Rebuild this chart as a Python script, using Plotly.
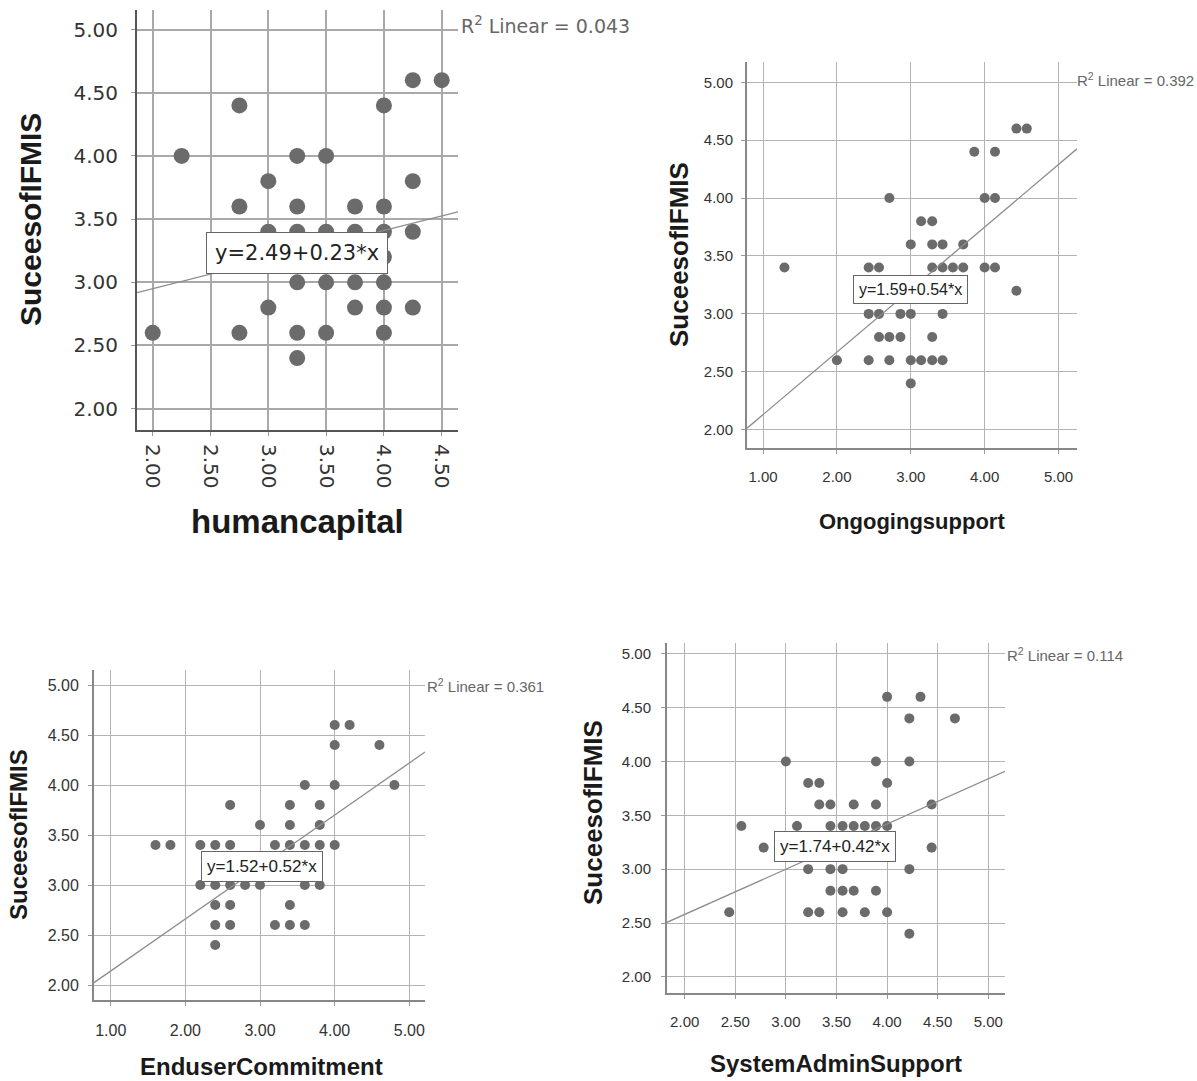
import plotly.graph_objects as go

W, H = 1197, 1081

# ---------------- data ----------------
# Panel 1: humancapital vs SuceesofIFMIS
hc_x = [4.25, 4.5, 2.75, 4.0, 2.25, 3.25, 3.5, 3.0, 4.25, 2.75, 3.25, 3.75, 4.0,
        3.0, 3.25, 3.5, 3.75, 4.0, 4.25, 4.0, 3.25, 3.5, 3.75, 4.0,
        3.0, 3.75, 4.0, 4.25, 2.0, 2.75, 3.25, 3.5, 4.0, 3.25]
hc_y = [4.6, 4.6, 4.4, 4.4, 4.0, 4.0, 4.0, 3.8, 3.8, 3.6, 3.6, 3.6, 3.6,
        3.4, 3.4, 3.4, 3.4, 3.4, 3.4, 3.2, 3.0, 3.0, 3.0, 3.0,
        2.8, 2.8, 2.8, 2.8, 2.6, 2.6, 2.6, 2.6, 2.6, 2.4]

# Panel 2: Ongogingsupport vs SuceesofIFMIS
os_x = [4.43, 4.57, 3.86, 4.14, 2.71, 4.0, 4.14, 3.14, 3.29,
        3.0, 3.29, 3.43, 3.71,
        1.29, 2.43, 2.57, 3.29, 3.43, 3.57, 3.71, 4.0, 4.14,
        4.43,
        2.43, 2.57, 2.86, 3.0, 3.43,
        2.57, 2.71, 2.86, 3.29,
        2.0, 2.43, 2.71, 3.0, 3.14, 3.29, 3.43,
        3.0]
os_y = [4.6, 4.6, 4.4, 4.4, 4.0, 4.0, 4.0, 3.8, 3.8,
        3.6, 3.6, 3.6, 3.6,
        3.4, 3.4, 3.4, 3.4, 3.4, 3.4, 3.4, 3.4, 3.4,
        3.2,
        3.0, 3.0, 3.0, 3.0, 3.0,
        2.8, 2.8, 2.8, 2.8,
        2.6, 2.6, 2.6, 2.6, 2.6, 2.6, 2.6,
        2.4]

# Panel 3: EnduserCommitment vs SuceesofIFMIS
ec_x = [4.0, 4.2, 4.0, 4.6, 3.6, 4.0, 4.8, 2.6, 3.4, 3.8, 3.0, 3.4, 3.8,
        1.6, 1.8, 2.2, 2.4, 2.6, 3.2, 3.4, 3.6, 3.8, 4.0,
        2.2, 2.4, 2.6, 2.8, 3.0, 3.6, 3.8,
        2.4, 2.6, 3.4,
        2.4, 2.6, 3.2, 3.4, 3.6,
        2.4]
ec_y = [4.6, 4.6, 4.4, 4.4, 4.0, 4.0, 4.0, 3.8, 3.8, 3.8, 3.6, 3.6, 3.6,
        3.4, 3.4, 3.4, 3.4, 3.4, 3.4, 3.4, 3.4, 3.4, 3.4,
        3.0, 3.0, 3.0, 3.0, 3.0, 3.0, 3.0,
        2.8, 2.8, 2.8,
        2.6, 2.6, 2.6, 2.6, 2.6,
        2.4]

# Panel 4: SystemAdminSupport vs SuceesofIFMIS
sa_x = [4.0, 4.33, 4.22, 4.67, 3.0, 3.89, 4.22, 3.22, 3.33, 4.0,
        3.33, 3.44, 3.67, 3.89, 4.44,
        2.56, 3.11, 3.44, 3.56, 3.67, 3.78, 3.89, 4.0,
        2.78, 4.44,
        3.22, 3.44, 3.56, 4.22,
        3.44, 3.56, 3.67, 3.89,
        2.44, 3.22, 3.33, 3.56, 3.78, 4.0,
        4.22]
sa_y = [4.6, 4.6, 4.4, 4.4, 4.0, 4.0, 4.0, 3.8, 3.8, 3.8,
        3.6, 3.6, 3.6, 3.6, 3.6,
        3.4, 3.4, 3.4, 3.4, 3.4, 3.4, 3.4, 3.4,
        3.2, 3.2,
        3.0, 3.0, 3.0, 3.0,
        2.8, 2.8, 2.8, 2.8,
        2.6, 2.6, 2.6, 2.6, 2.6, 2.6,
        2.4]

intercepts = [2.49, 1.59, 1.62, 1.74]
slopes = [0.23, 0.54, 0.52, 0.42]
eq_labels = ["y=2.49+0.23*x", "y=1.59+0.54*x", "y=1.52+0.52*x", "y=1.74+0.42*x"]
r2_labels = ["R<sup>2</sup> Linear = 0.043", "R<sup>2</sup> Linear = 0.392",
             "R<sup>2</sup> Linear = 0.361", "R<sup>2</sup> Linear = 0.114"]
x_titles = ["humancapital", "Ongogingsupport", "EnduserCommitment", "SystemAdminSupport"]
y_title = "SuceesofIFMIS"
x_ticks = [[2.0, 2.5, 3.0, 3.5, 4.0, 4.5], [1, 2, 3, 4, 5], [1, 2, 3, 4, 5],
           [2.0, 2.5, 3.0, 3.5, 4.0, 4.5, 5.0]]
y_ticks = [2.0, 2.5, 3.0, 3.5, 4.0, 4.5, 5.0]

xs = [hc_x, os_x, ec_x, sa_x]
ys = [hc_y, os_y, ec_y, sa_y]

# ---------------- layout/style ----------------
SANS = "Liberation Sans, Arial, sans-serif"
DEJA = "DejaVu Sans, sans-serif"
panels = [
    dict(box=(137, 458, 10, 430), xr=[1.864, 4.641], yr=[1.831, 5.155], ms=16,
         tickfont=dict(family=DEJA, size=20, color="#333"), tickangle=90,
         xstand=4, ystand=9, grid="#a9a9a9", gw=1.5, axis="#555",
         eq=(3.244, 3.232, DEJA, 21, 8), r2=(459, 25, DEJA, 19),
         yt=(30, 220, 30), xt=(297, 521, 33)),
    dict(box=(747, 1077, 62, 448), xr=[0.783, 5.25], yr=[1.842, 5.175], ms=10,
         tickfont=dict(family=SANS, size=15, color="#333"), tickangle=0,
         xstand=10, ystand=5, grid="#b3b3b3", gw=1, axis="#888",
         eq=(3.0, 3.21, SANS, 16, 5), r2=(1075, 80, SANS, 15),
         yt=(679, 255, 26), xt=(912, 521, 22)),
    dict(box=(94, 425, 670, 1000), xr=[0.776, 5.21], yr=[1.85, 5.15], ms=10,
         tickfont=dict(family=SANS, size=16, color="#333"), tickangle=0,
         xstand=11, ystand=6, grid="#b3b3b3", gw=1, axis="#888",
         eq=(3.03, 3.185, SANS, 17, 5), r2=(425, 685, SANS, 15),
         yt=(18, 835, 24), xt=(261, 1066, 24)),
    dict(box=(667, 1005, 643, 993), xr=[1.825, 5.165], yr=[1.85, 5.10], ms=10,
         tickfont=dict(family=SANS, size=15, color="#333"), tickangle=0,
         xstand=10, ystand=7, grid="#b3b3b3", gw=1, axis="#888",
         eq=(3.49, 3.21, SANS, 17, 5), r2=(1005, 654, SANS, 15),
         yt=(593, 813, 26), xt=(836, 1063, 24)),
]

fig = go.Figure()
annotations = []
layout = dict(width=W, height=H, margin=dict(l=0, r=0, t=0, b=0),
              paper_bgcolor="white", plot_bgcolor="white", showlegend=False)

for i, p in enumerate(panels):
    n = "" if i == 0 else str(i + 1)
    xa, ya = "x" + n, "y" + n
    l, r, t, b = p["box"]
    fig.add_trace(go.Scatter(x=xs[i], y=ys[i], mode="markers", xaxis=xa, yaxis=ya,
                             marker=dict(size=p["ms"], color="#6b6b6b",
                                         line=dict(width=0)),
                             cliponaxis=True, hoverinfo="skip"))
    lx = [p["xr"][0], p["xr"][1]]
    ly = [intercepts[i] + slopes[i] * v for v in lx]
    fig.add_trace(go.Scatter(x=lx, y=ly, mode="lines", xaxis=xa, yaxis=ya,
                             line=dict(color="#8c8c8c", width=1.3), hoverinfo="skip"))
    common = dict(showgrid=True, gridcolor=p["grid"], gridwidth=p["gw"], zeroline=False,
                  showline=True, linecolor=p["axis"], linewidth=2, ticks="outside",
                  ticklen=4, tickcolor="#999", tickfont=p["tickfont"], tickformat=".2f")
    layout["xaxis" + n] = dict(common, domain=[l / W, r / W], range=p["xr"],
                               tickvals=x_ticks[i], anchor=ya, tickangle=p["tickangle"],
                               ticklabelstandoff=p["xstand"])
    layout["yaxis" + n] = dict(common, domain=[1 - b / H, 1 - t / H], range=p["yr"],
                               tickvals=y_ticks, anchor=xa, ticklabelstandoff=p["ystand"])
    ex, ey, ef, es, ep = p["eq"]
    annotations.append(dict(x=ex, y=ey, xref=xa, yref=ya, text=eq_labels[i],
                            showarrow=False, font=dict(family=ef, size=es, color="#222"),
                            bgcolor="white", bordercolor="#666", borderwidth=1,
                            borderpad=ep, xanchor="center", yanchor="middle"))
    rx, ry, rf, rs = p["r2"]
    annotations.append(dict(x=rx / W, y=1 - ry / H, xref="paper", yref="paper",
                            text=r2_labels[i], showarrow=False, xanchor="left",
                            yanchor="middle", font=dict(family=rf, size=rs, color="#666")))
    tx, tyy, ts = p["yt"]
    annotations.append(dict(x=tx / W, y=1 - tyy / H, xref="paper", yref="paper",
                            text="<b>" + y_title + "</b>", showarrow=False, textangle=-90,
                            xanchor="center", yanchor="middle",
                            font=dict(family=SANS, size=ts, color="#1a1a1a")))
    tx, tyy, ts = p["xt"]
    annotations.append(dict(x=tx / W, y=1 - tyy / H, xref="paper", yref="paper",
                            text="<b>" + x_titles[i] + "</b>", showarrow=False,
                            xanchor="center", yanchor="middle",
                            font=dict(family=SANS, size=ts, color="#1a1a1a")))

layout["annotations"] = annotations
fig.update_layout(**layout)
fig.write_html("out.html")
